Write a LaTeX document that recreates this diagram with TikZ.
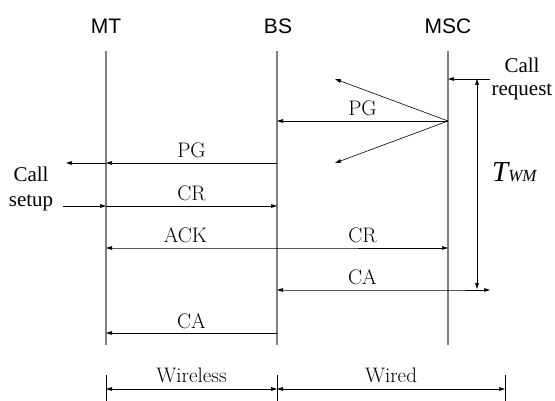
\documentclass[tikz,border=0pt]{standalone}
\usepackage{fontspec}
\newfontfamily\headfont{Liberation Sans}
\newfontfamily\notefont{Liberation Serif}
\usetikzlibrary{arrows.meta,positioning}

\begin{document}
\begin{tikzpicture}[x=1pt, y=-1pt,
        font=\fontsize{21}{23}\selectfont,
        entity/.style={font=\fontsize{21}{23}\selectfont\headfont, inner sep=0pt},
        life/.style={draw=black!50, line width=1.3pt},
        msg/.style={-{Triangle[length=6pt, width=3.6pt]}, line width=0.6pt},
        both/.style={{Triangle[length=6pt, width=3.6pt]}-{Triangle[length=6pt, width=3.6pt]}, line width=0.6pt},
        lbl/.style={anchor=base, yshift=5pt, inner sep=0pt},
        side/.style={align=center, inner sep=0pt, font=\fontsize{21}{23}\selectfont\notefont}
    ]
        \useasboundingbox (0,0) rectangle (555,401);
        % entities
        \node[entity] (mt) at (106,26) {MT};
        \node[entity] (bs) at (278,26) {BS};
        \node[entity] (msc) at (448,26) {MSC};
        % lifelines
        \coordinate (mt0) at (106,51);  \coordinate (mt9) at (106,345);
        \coordinate (bs0) at (277,51);  \coordinate (bs9) at (277,345);
        \coordinate (msc0) at (448,51); \coordinate (msc9) at (448,345);
        \draw[life] (mt0) -- (mt9);
        \draw[life] (bs0) -- (bs9);
        \draw[life] (msc0) -- (msc9);
        % call request
        \coordinate (req) at (490,79);
        \coordinate (msc1) at (448,79);
        \node[side] (callreq) at (522,79) {Call\\request};
        \draw[msg] (req) -- (msc1);
        % paging
        \coordinate (msc2) at (448,121);
        \coordinate (bs2) at (277,121);
        \coordinate (up) at (335,79);
        \coordinate (dn) at (335,163);
        \draw[msg] (msc2) -- node[lbl] {PG} (bs2);
        \draw[msg] (msc2) -- (up);
        \draw[msg] (msc2) -- (dn);
        \coordinate (bs3) at (277,163);
        \coordinate (mt3) at (106,163);
        \coordinate (setL) at (66,163);
        \draw[msg] (bs3) -- node[lbl] {PG} (mt3);
        \draw[msg] (mt3) -- (setL);
        % call setup
        \node[side, font=\fontsize{21}{25}\selectfont\notefont] (callset) at (31,189) {Call\\setup};
        \coordinate (setR) at (63,206);
        \coordinate (mt4) at (106,206);
        \coordinate (bs4) at (277,206);
        \draw[msg] (setR) -- (mt4);
        \draw[msg] (mt4) -- node[lbl] {CR} (bs4);
        % ack / cr
        \coordinate (mt5) at (106,248);
        \coordinate (bs5) at (277,248);
        \coordinate (msc5) at (448,248);
        \draw[both] (mt5) -- node[lbl, xshift=-6pt] {ACK} (bs5) -- node[lbl] {CR} (msc5);
        % call accept
        \coordinate (bs6) at (277,290);
        \coordinate (msc6) at (448,290);
        \coordinate (caR) at (490,290);
        \draw[both] (bs6) -- node[lbl] {CA} (msc6) -- (caR);
        \coordinate (bs7) at (277,333);
        \coordinate (mt7) at (106,333);
        \draw[msg] (bs7) -- node[lbl] {CA} (mt7);
        % waiting time
        \coordinate (tw1) at (477,79);
        \coordinate (tw2) at (477,289);
        \draw[both] (tw1) -- (tw2);
        \node[font=\fontsize{29}{31}\selectfont\notefont\itshape, inner sep=0pt, anchor=base west] (twm) at (492,182) {T\fontsize{17}{17}\selectfont WM};
        % wireless / wired
        \coordinate (d1) at (106,375); \coordinate (d1b) at (106,401);
        \coordinate (d2) at (277,375); \coordinate (d2b) at (277,401);
        \coordinate (d3) at (505,375); \coordinate (d3b) at (505,401);
        \draw[line width=0.6pt] (d1) -- (d1b);
        \draw[line width=0.6pt] (d2) -- (d2b);
        \draw[line width=0.6pt] (d3) -- (d3b);
        \coordinate (w1) at (106,389);
        \coordinate (w2) at (277,389);
        \coordinate (w3) at (505,389);
        \draw[both] (w1) -- node[lbl, yshift=2pt] {Wireless} (w2);
        \draw[both] (w2) -- node[lbl, yshift=2pt] {Wired} (w3);
    \end{tikzpicture}
\end{document}
